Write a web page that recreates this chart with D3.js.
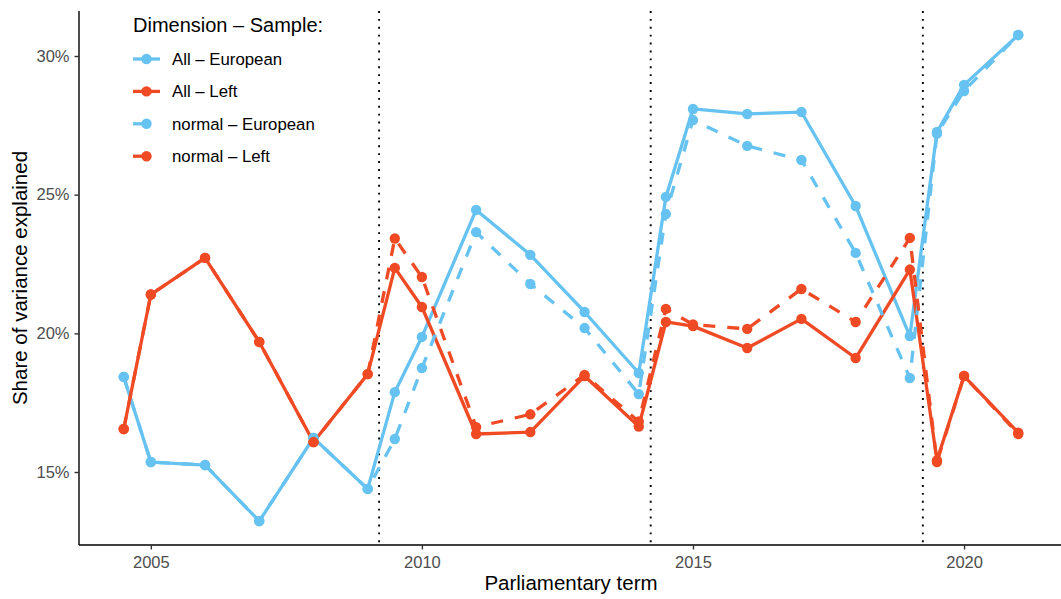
<!DOCTYPE html>
<html>
<head>
<meta charset="utf-8">
<script src="https://cdn.jsdelivr.net/npm/d3@7"></script>
<style>
  html, body { margin: 0; padding: 0; background: #fff; }
  svg { display: block; font-family: "Liberation Sans", Arial, Helvetica, sans-serif; }
</style>
</head>
<body>
<svg id="chart" width="1061" height="599"></svg>
<script>
// Parliamentary terms (x positions) shared by all series
const years = [2004.5, 2005, 2006, 2007, 2008, 2009, 2009.5, 2010, 2011, 2012, 2013, 2014,
               2014.5, 2015, 2016, 2017, 2018, 2019, 2019.5, 2020, 2021];

// Share of variance explained (%) per series
const allEuropean    = [18.43, 15.36, 15.25, 13.23, 16.23, 14.39, 17.88, 19.87, 24.45, 22.83, 20.77, 18.57,
                        24.92, 28.09, 27.91, 27.98, 24.59, 19.90, 27.26, 28.96, 30.76];
const allLeft        = [16.55, 21.40, 22.72, 19.69, 16.08, 18.53, 22.36, 20.95, 16.37, 16.44, 18.46, 16.64,
                        20.41, 20.26, 19.47, 20.52, 19.11, 22.30, 15.42, 18.46, 16.42];
const normalEuropean = [18.43, 15.36, 15.25, 13.23, 16.23, 14.39, 16.19, 18.75, 23.65, 21.78, 20.19, 17.81,
                        24.30, 27.69, 26.76, 26.25, 22.90, 18.39, 27.20, 28.74, 30.76];
const normalLeft     = [16.55, 21.40, 22.72, 19.69, 16.08, 18.53, 23.42, 22.03, 16.62, 17.08, 18.50, 16.82,
                        20.88, 20.32, 20.16, 21.60, 20.41, 23.44, 15.36, 18.46, 16.37];

// Election dates marked with dotted vertical rules
const elections = [2009.21, 2014.22, 2019.24];

// Tick values
const xTicks = [2005, 2010, 2015, 2020];
const yTicks = [15, 20, 25, 30];

const seriesNames = ["All – European", "All – Left", "normal – European", "normal – Left"];
const seriesValues = [allEuropean, allLeft, normalEuropean, normalLeft];
const seriesColor = ["#66C2F0", "#EF4A23", "#66C2F0", "#EF4A23"];
const seriesDash = [null, null, "12,12", "12,12"];

const svg = d3.select("#chart");
const padL = 79, padR = 1063, padT = 11, padB = 545;

const x = d3.scaleLinear().domain([2003.675, 2021.825]).range([padL, padR]);
const y = d3.scaleLinear().domain([12.368, 31.623]).range([padB, padT]);

// Election rules
svg.append("g").selectAll("line").data(elections).join("line")
  .attr("x1", d => x(d)).attr("x2", d => x(d))
  .attr("y1", padT).attr("y2", padB)
  .attr("stroke", "#000").attr("stroke-width", 1.9)
  .attr("stroke-dasharray", "1.9,6");

// Lines
const line = d3.line().x(d => x(d[0])).y(d => y(d[1]));
const series = seriesValues.map((vals, i) => ({
  name: seriesNames[i], color: seriesColor[i], dash: seriesDash[i],
  pts: years.map((yr, j) => [yr, vals[j]])
}));

svg.append("g").selectAll("path").data(series).join("path")
  .attr("d", d => line(d.pts))
  .attr("fill", "none")
  .attr("stroke", d => d.color)
  .attr("stroke-width", 3.3)
  .attr("stroke-linejoin", "round")
  .attr("stroke-dasharray", d => d.dash);

// Points
svg.append("g").selectAll("g").data(series).join("g")
  .attr("fill", d => d.color)
  .selectAll("circle").data(d => d.pts).join("circle")
  .attr("cx", d => x(d[0])).attr("cy", d => y(d[1])).attr("r", 5.2);

// Axes
const xAxis = d3.axisBottom(x).tickValues(xTicks).tickFormat(d3.format("d")).tickSize(4.5).tickPadding(7);
const yAxis = d3.axisLeft(y).tickValues(yTicks).tickFormat(d => d + "%").tickSize(4.5).tickPadding(5);

const gx = svg.append("g").attr("transform", `translate(0,${padB})`).call(xAxis);
const gy = svg.append("g").attr("transform", `translate(${padL},0)`).call(yAxis);
[gx, gy].forEach(g => {
  g.select(".domain").attr("stroke", "#000").attr("stroke-width", 1.4);
  g.selectAll(".tick line").attr("stroke", "#333").attr("stroke-width", 1.4);
  g.selectAll(".tick text").attr("fill", "#4D4D4D").style("font-size", "16.5px")
    .style("font-family", "'Liberation Sans', Arial, sans-serif");
});
gx.select(".domain").attr("d", `M${padL},0H${padR}`);
gy.select(".domain").attr("d", `M0,${padB}V${padT}`);

// Axis titles
svg.append("text").attr("x", (padL + padR) / 2).attr("y", 590)
  .attr("text-anchor", "middle").style("font-size", "20.5px").attr("fill", "#000")
  .text("Parliamentary term");
svg.append("text").attr("transform", `translate(27,${(padT + padB) / 2}) rotate(-90)`)
  .attr("text-anchor", "middle").style("font-size", "20.5px").attr("fill", "#000")
  .text("Share of variance explained");

// Legend
const lg = svg.append("g").attr("transform", "translate(133,0)");
lg.append("text").attr("x", 0).attr("y", 32).style("font-size", "20px").attr("fill", "#000")
  .text("Dimension – Sample:");
const item = lg.selectAll("g.item").data(series).join("g")
  .attr("class", "item")
  .attr("transform", (d, i) => `translate(0,${59 + i * 32.4})`);
item.append("line").attr("x1", 0).attr("x2", 27).attr("y1", 0).attr("y2", 0)
  .attr("stroke", d => d.color).attr("stroke-width", 3.3)
  .attr("stroke-dasharray", d => d.dash ? "14,14" : null);
item.append("circle").attr("cx", 13.5).attr("cy", 0).attr("r", 5.2).attr("fill", d => d.color);
item.append("text").attr("x", 39).attr("y", 6).style("font-size", "16.8px").attr("fill", "#000")
  .text(d => d.name);
</script>
</body>
</html>
